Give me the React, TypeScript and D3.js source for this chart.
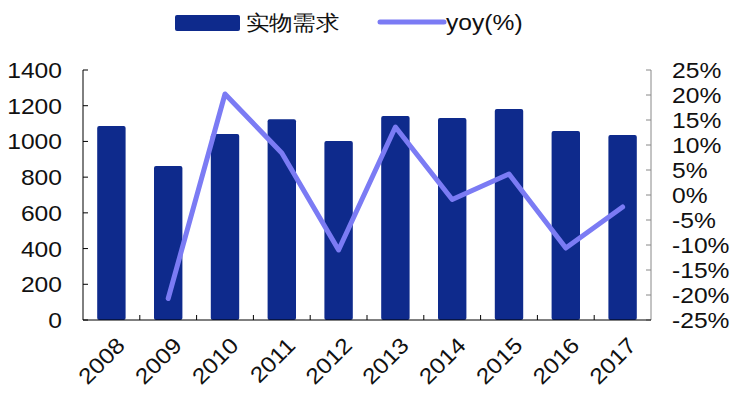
import React from "react";
import * as d3 from "d3";

const years = ["2008", "2009", "2010", "2011", "2012", "2013", "2014", "2015", "2016", "2017"];
const demand = [1087, 862, 1041, 1124, 1002, 1142, 1131, 1181, 1058, 1036];
const yoyYears = ["2009", "2010", "2011", "2012", "2013", "2014", "2015", "2016", "2017"];
const yoy = [-20.7, 20.2, 8.4, -11.0, 13.6, -0.9, 4.2, -10.6, -2.4];
const leftTicks = [0, 200, 400, 600, 800, 1000, 1200, 1400];
const rightTicks = [-25, -20, -15, -10, -5, 0, 5, 10, 15, 20, 25];
const legendLabels = ["实物需求", "yoy(%)"];

const W = 741, H = 403;
const M = { left: 83, right: 651, top: 70, bottom: 320 };
const BAR = "#0E2A8C";
const LINE = "#7B7BF4";
const FONT = "'Liberation Sans', Arial, sans-serif";
const SX = 1.12;

function T(props: { x: number; y: number; anchor?: string; size?: number; rot?: number; dy?: string; children: any }) {
  const { x, y, anchor = "start", size = 22, rot = 0, dy = "0.36em", children } = props;
  return (
    <text transform={`translate(${x},${y}) rotate(${rot}) scale(${SX},1)`} textAnchor={anchor as any}
      fontSize={size} dy={dy} fill="#111">{children}</text>
  );
}

export default function App() {
  const x = d3.scaleBand().domain(years).range([M.left, M.right]).paddingInner(0).paddingOuter(0);
  const yL = d3.scaleLinear().domain([0, 1400]).range([M.bottom, M.top]);
  const yR = d3.scaleLinear().domain([-25, 25]).range([M.bottom, M.top]);
  const bw = x.bandwidth() * 0.5;
  const line = d3.line<number>()
    .x((_, i) => (x(yoyYears[i]) as number) + x.bandwidth() / 2)
    .y((d) => yR(d));
  return (
    <svg width={W} height={H} style={{ position: "absolute", left: 0, top: 0, background: "#fff" }} fontFamily={FONT}>
      {years.map((yr, i) => (
        <rect key={yr} x={(x(yr) as number) + (x.bandwidth() - bw) / 2} y={yL(demand[i])} width={bw}
          height={yL(0) - yL(demand[i])} fill={BAR} rx={2} />
      ))}
      <path d={line(yoy) || ""} fill="none" stroke={LINE} strokeWidth={5} strokeLinejoin="round" strokeLinecap="round" />
      <line x1={M.left} x2={M.left} y1={M.top} y2={M.bottom} stroke="#000" strokeWidth={1} />
      {leftTicks.map((t) => (
        <g key={t}>
          <line x1={M.left} x2={M.left + 5} y1={yL(t)} y2={yL(t)} stroke="#000" />
          <T x={62} y={yL(t)} anchor="end">{t}</T>
        </g>
      ))}
      <line x1={M.right} x2={M.right} y1={M.top} y2={M.bottom} stroke="#888" strokeWidth={1} />
      {rightTicks.map((t) => (
        <g key={t}>
          <line x1={M.right - 5} x2={M.right} y1={yR(t)} y2={yR(t)} stroke="#888" />
          <T x={672} y={yR(t)}>{t + "%"}</T>
        </g>
      ))}
      <line x1={M.left} x2={M.right} y1={M.bottom} y2={M.bottom} stroke="#000" />
      {years.map((yr, i) => i > 0 ? (
        <line key={"t" + yr} x1={x(yr)} x2={x(yr)} y1={M.bottom} y2={M.bottom - 5} stroke="#000" />
      ) : null)}
      {years.map((yr) => {
        const cx = (x(yr) as number) + x.bandwidth() / 2 + 4;
        return <T key={"l" + yr} x={cx} y={336} anchor="end" rot={-45} dy="0.7em">{yr}</T>;
      })}
      <rect x={175} y={15} width={65} height={16} rx={2} fill={BAR} />
      <T x={246} y={22} size={21}>{legendLabels[0]}</T>
      <line x1={380} x2={444} y1={22} y2={22} stroke={LINE} strokeWidth={5} strokeLinecap="round" />
      <T x={446} y={22} size={22}>{legendLabels[1]}</T>
    </svg>
  );
}
